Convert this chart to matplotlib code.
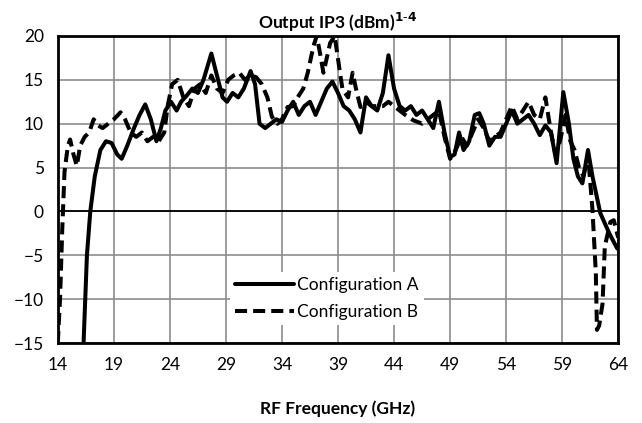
import numpy as np
import matplotlib
matplotlib.use("Agg")
import matplotlib.pyplot as plt

plt.rcParams['font.family'] = ['Lato', 'DejaVu Sans']

# Configuration A (solid)
freq_a = [16.3, 16.6, 16.9, 17.3, 17.8, 18.3, 18.8, 19.3, 19.7, 20.2, 20.8, 21.3, 21.8,
          22.3, 22.8, 23.2, 23.6, 24.1, 24.6, 25.0, 25.5, 26.0, 26.5, 27.0, 27.7, 28.2,
          28.7, 29.1, 29.6, 30.1, 30.6, 31.2, 31.6, 32.0, 32.5, 33.0, 33.5, 34.0, 34.5,
          35.0, 35.5, 36.0, 36.5, 37.0, 37.5, 38.0, 38.5, 39.0, 39.5, 40.0, 40.5, 41.0,
          41.5, 42.0, 42.5, 43.0, 43.5, 44.0, 44.5, 45.0, 45.5, 46.0, 46.5, 47.0, 47.5,
          48.0, 48.5, 49.0, 49.4, 49.8, 50.2, 50.7, 51.2, 51.6, 52.0, 52.5, 53.0, 53.5,
          54.0, 54.5, 55.0, 55.5, 56.0, 56.5, 57.0, 57.5, 58.0, 58.5, 59.1, 59.6, 60.0,
          60.4, 60.8, 61.3, 61.7, 62.4, 63.2, 63.9, 64.0]
ip3_a = [-15, -5, 0, 4, 7, 8, 7.8, 6.5, 6, 7.5, 9.5, 11, 12.2,
         10.5, 8, 9.5, 11.5, 12.5, 11.5, 12.5, 13.2, 14.0, 13.5, 15.0, 18.0, 15.5,
         13.0, 12.5, 13.5, 13.0, 14.0, 16.0, 14.5, 10.0, 9.5, 10.0, 10.5, 10.2, 11.5,
         12.5, 11.0, 12.0, 12.5, 11.0, 12.5, 14.0, 14.8, 13.5, 12.0, 11.5, 10.5, 9.0,
         13.0, 12.0, 11.5, 13.5, 17.8, 14.0, 12.0, 11.5, 12.0, 11.0, 11.5, 10.5, 9.5,
         12.5, 9.0, 6.2, 6.5, 9.0, 7.0, 8.0, 11.0, 11.2, 10.0, 7.5, 8.5, 8.5,
         10.0, 11.5, 10.0, 10.5, 11.0, 10.0, 8.7, 9.8, 9.0, 5.5, 13.6, 10.0, 6.0,
         4.0, 3.2, 7.0, 4.0, -0.2, -2.5, -4.2, -4.3]

# Configuration B (dashed)
freq_b = [14.0, 14.2, 14.4, 14.6, 14.9, 15.1, 15.4, 15.7, 16.0, 16.4, 16.8, 17.2, 17.6,
          18.0, 18.5, 19.0, 19.6, 20.0, 20.5, 21.0, 21.5, 22.0, 22.5, 23.0, 23.5, 23.8,
          24.2, 24.7, 25.2, 25.7, 26.2, 26.7, 27.2, 27.7, 28.2, 28.7, 29.2, 29.7, 30.2,
          30.7, 31.2, 31.7, 32.2, 32.7, 33.1, 33.6, 34.0, 34.5, 35.0, 35.4, 35.9, 36.3,
          36.8, 37.1, 37.4, 37.7, 38.0, 38.3, 38.7, 39.1, 39.4, 39.9, 40.3, 40.6, 41.0,
          41.5, 42.0, 42.5, 43.0, 43.5, 44.0, 44.5, 45.0, 45.7, 46.5, 47.0, 47.5, 48.0,
          48.5, 49.0, 49.5, 50.0, 50.5, 51.0, 51.5, 52.0, 52.5, 53.0, 53.5, 54.0, 54.5,
          55.0, 55.5, 56.0, 56.5, 57.0, 57.5, 58.0, 58.4, 58.8, 59.3, 59.7, 60.1, 60.5,
          60.9, 61.3, 61.7, 62.0, 62.1, 62.3, 62.6, 62.8, 63.3, 63.6, 64.0]
ip3_b = [-15, -10, -2, 4.5, 7.5, 8.2, 6.5, 5.2, 7.5, 8.5, 9.0, 10.5, 9.8,
         9.5, 10.0, 10.5, 11.3, 10.5, 9.0, 8.5, 9.0, 8.0, 8.5, 8.0, 9.0, 12.0,
         14.5, 15.0, 13.0, 12.0, 14.0, 14.5, 13.5, 15.5, 14.0, 13.5, 15.0, 15.5, 15.8,
         15.0, 15.5, 15.3, 14.5, 13.0, 10.8, 10.0, 10.5, 11.9, 12.0, 13.0, 14.0, 15.8,
         18.8, 20.0, 18.0, 15.8, 17.5, 19.2, 20.0, 16.5, 13.9, 13.0, 15.8, 14.0, 11.9,
         12.5, 12.0, 12.0, 12.0, 12.5, 12.0, 11.5, 11.0, 10.4, 10.0, 10.5, 11.0, 11.5,
         8.5, 6.0, 7.0, 8.5, 7.5, 9.0, 10.5, 9.5, 8.0, 8.5, 9.0, 10.5, 12.0,
         10.5, 11.5, 12.5, 11.0, 10.5, 13.0, 9.0, 6.5, 8.0, 11.0, 8.1, 7.0, 5.0,
         4.0, 6.5, 0.2, -7.0, -13.5, -13.0, -10.5, -4.0, -1.2, -1.0, -3.0]

xticks = np.arange(14, 65, 5)
yticks = np.arange(-15, 21, 5)

fig = plt.figure(figsize=(6.42, 4.23), dpi=100)
ax = fig.add_axes([0.090, 0.189, 0.873, 0.726])

ax.plot(freq_a, ip3_a, color='black', lw=2.9, label='Configuration A', zorder=3,
        solid_joinstyle='round', solid_capstyle='round')
ax.plot(freq_b, ip3_b, color='black', lw=2.9, ls=(0, (3, 1.5)), label='Configuration B',
        zorder=3, dash_joinstyle='round')
ax.axhline(0, color='black', lw=1.3, zorder=2)

ax.set_xlim(14, 64)
ax.set_ylim(-15, 20)
ax.set_xticks(xticks)
ax.set_yticks(yticks)
ax.grid(True, color='#8c8c8c', lw=1.2)
ax.set_axisbelow(True)
ax.tick_params(length=0, labelsize=12.5, pad=10)
for s in ax.spines.values():
    s.set_linewidth(2)
    s.set_color('black')

ax.set_title('Output IP3 (dBm)$^{\\mathbf{1\\text{-}4}}$', fontsize=12.5, fontweight='bold', pad=5)
ax.set_xlabel('RF Frequency (GHz)', fontsize=12.5, fontweight='bold', labelpad=20)

leg = ax.legend(loc='center', bbox_to_anchor=(0.48, 0.145), fontsize=12.5, frameon=True,
                handlelength=3.4, labelspacing=0.6, borderpad=0.3, handletextpad=0.2)
leg.get_frame().set_edgecolor('none')
leg.get_frame().set_facecolor('white')
leg.get_frame().set_alpha(1)

fig.savefig('out.png', dpi=100)
